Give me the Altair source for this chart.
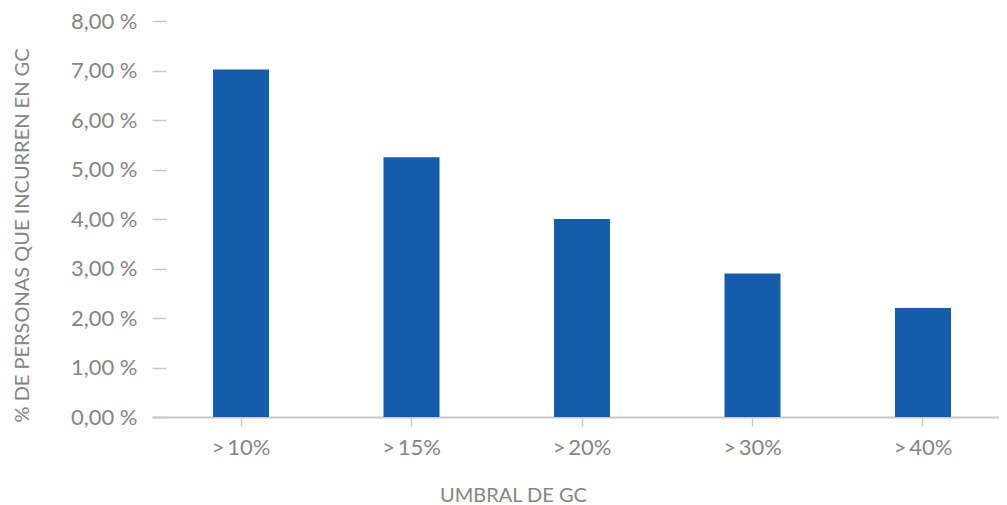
import altair as alt
import pandas as pd

categories = [">\u200910%", ">\u200915%", ">\u200920%", ">\u200930%", ">\u200940%"]
values = [7.02, 5.25, 4.0, 2.9, 2.2]

df = pd.DataFrame({"umbral": categories, "pct": values})

FONT = "Lato"
GREY = "#858585"
LINE = "#c8c8c8"

chart = alt.Chart(df).mark_bar(color="#155DAA").encode(
    x=alt.X("umbral:N", sort=categories,
            scale=alt.Scale(paddingInner=0.6716, paddingOuter=0.3578),
            axis=alt.Axis(title="UMBRAL DE GC", labelAngle=0, labelFont=FONT, labelFontSize=22,
                          labelFontWeight="normal",
                          labelColor=GREY, labelPadding=11, tickSize=9, tickColor=LINE, tickWidth=1.5,
                          domainColor=LINE, domainWidth=2, titleFont=FONT, titleFontSize=20,
                          titleFontWeight="normal", titleColor=GREY, titleX=361, titleY=78,
                          titleBaseline="middle", titleAlign="center")),
    y=alt.Y("pct:Q", scale=alt.Scale(domain=[0, 8]),
            axis=alt.Axis(title="% DE PERSONAS QUE INCURREN EN GC", values=[0, 1, 2, 3, 4, 5, 6, 7, 8],
                          labelExpr="replace(format(datum.value, '.2f'), '.', ',') + ' %'",
                          labelFont=FONT, labelFontSize=22, labelFontWeight="normal", labelColor=GREY,
                          labelPadding=15,
                          domain=False, grid=False, offset=-14, tickSize=14, tickColor=LINE, tickWidth=1.5,
                          titleFont=FONT, titleFontSize=20, titleFontWeight="normal", titleColor=GREY,
                          titleX=-144, titleY=214, titleAlign="center", titleBaseline="middle")),
).properties(
    width=860, height=396,
    autosize=alt.AutoSizeParams(type="none"),
    padding={"left": 144, "top": 13, "right": -13, "bottom": 88},
).configure_view(stroke=None)

chart.save("out.html", embed_options={"renderer": "svg", "actions": False})
